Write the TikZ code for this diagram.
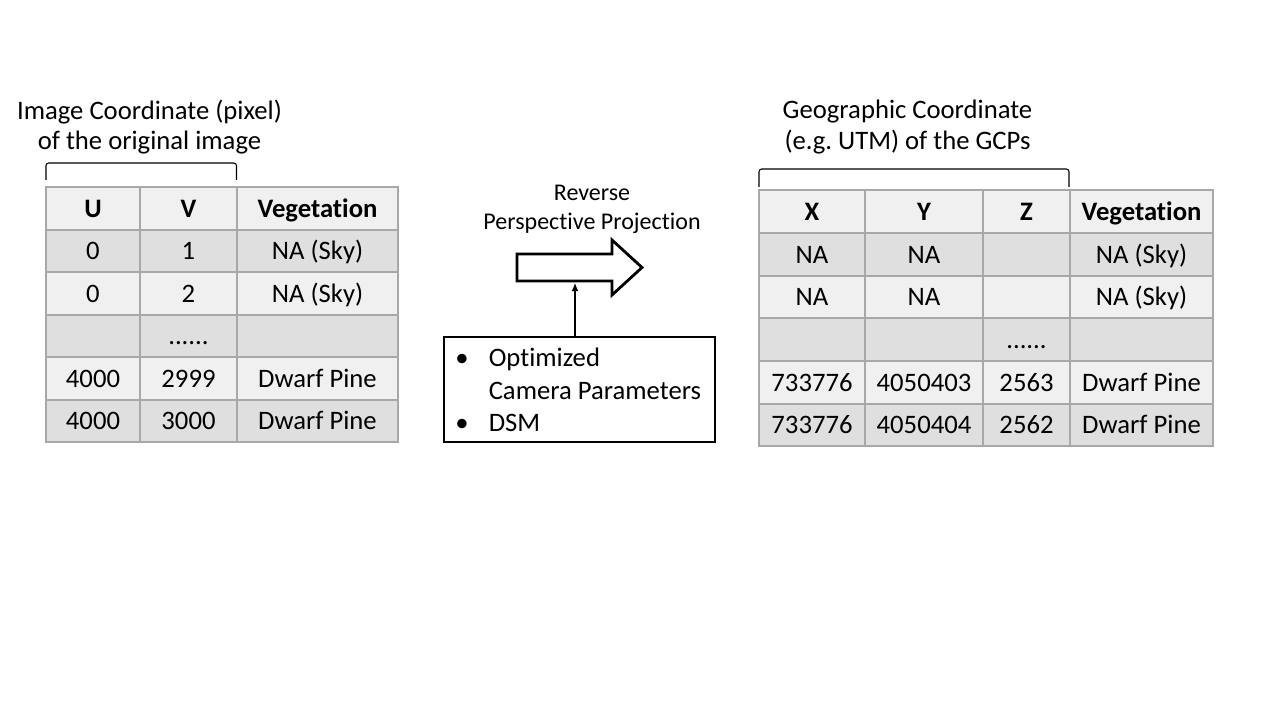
\documentclass[tikz,border=0pt]{standalone}
\usepackage{fontspec}
\setmainfont{Carlito}[Ligatures={NoCommon}]
\frenchspacing
\usetikzlibrary{fit,arrows.meta}
\definecolor{rowlight}{HTML}{F0F0F0}
\definecolor{rowdark}{HTML}{DFDFDF}
\definecolor{gridline}{HTML}{A8A8A8}
\begin{document}
\begin{tikzpicture}[x=0.75pt,y=-0.75pt,
  cell/.style={draw=gridline, line width=0.9pt, inner sep=0pt},
  celltext/.style={font=\fontsize{20}{24}\selectfont, anchor=base, inner sep=0pt},
  title/.style={font=\fontsize{20}{24}\selectfont, anchor=base, inner sep=0pt},
  caption/.style={font=\fontsize{18}{22}\selectfont, anchor=base, inner sep=0pt},
  boxtext/.style={font=\fontsize{20}{24}\selectfont, anchor=base west, inner sep=0pt},
  bracket/.style={line width=0.8pt, rounded corners=2pt}]
\useasboundingbox (0,0) rectangle (1280,720);
\fill[white] (0,0) rectangle (1280,720);

% ---- pixel coordinate table ----
\node[title] (lt1) at (149.5,119.3) {Image Coordinate (pixel)};
\node[title] (lt2) at (149.5,150) {of the original image};
\draw[bracket] (46,180) -- (46,163) -- (236.5,163) -- (236.5,180);

\foreach \r/\ya/\yb/\fc/\ca/\cb/\cc in {
  0/187/230/rowlight/{\bfseries U}/{\bfseries V}/{\bfseries Vegetation},
  1/230/272/rowdark/0/1/NA (Sky),
  2/272/315/rowlight/0/2/NA (Sky),
  3/315/357/rowdark/{}/{......}/{},
  4/357/400/rowlight/4000/2999/Dwarf Pine,
  5/400/442/rowdark/4000/3000/Dwarf Pine}{
  \node[cell, fill=\fc, fit={(46,\ya) (140,\yb)}] (L-\r-1) {};
  \node[cell, fill=\fc, fit={(140,\ya) (237,\yb)}] (L-\r-2) {};
  \node[cell, fill=\fc, fit={(237,\ya) (398,\yb)}] (L-\r-3) {};
  \node[celltext] (L-\r-1t) at ([yshift=-6.4pt]L-\r-1.center) {\ca};
  \node[celltext] (L-\r-2t) at ([yshift=-6.4pt]L-\r-2.center) {\cb};
  \node[celltext] (L-\r-3t) at ([yshift=-6.4pt]L-\r-3.center) {\cc};
}

% ---- projection step ----
\node[caption] (rv1) at (592,200.7) {Reverse};
\node[caption] (rv2) at (592,229.3) {Perspective Projection};
\draw[line width=2.1pt, line join=miter]
  (517,254) -- (612,254) -- (612,240) -- (642,267.5) -- (612,295) -- (612,281) -- (517,281) -- cycle;
\coordinate (arrbot) at (575,283);

\node[draw, line width=0.8pt, inner sep=0pt, fit={(444,337) (715,442)}] (params) {};
\node[boxtext] (b1) at (455,366.7) {•};
\node[boxtext] (t1) at (488.5,366.7) {Optimized};
\node[boxtext] (t2) at (488.5,399.5) {Camera Parameters};
\node[boxtext] (b2) at (455,431.5) {•};
\node[boxtext] (t3) at (488.5,431.5) {DSM};
\draw[line width=0.8pt, -{Latex[length=6pt,width=5pt]}] (params.north -| arrbot) -- (arrbot);

% ---- geographic coordinate table ----
\node[title] (rt1) at (907.5,118.3) {Geographic Coordinate};
\node[title] (rt2) at (907.5,150) {(e.g. UTM) of the GCPs};
\draw[bracket] (759,187) -- (759,169) -- (1069,169) -- (1069,187);

\foreach \r/\ya/\yb/\fc/\ca/\cb/\cc/\cd in {
  0/190/233/rowlight/{\bfseries X}/{\bfseries Y}/{\bfseries Z}/{\bfseries Vegetation},
  1/233/276/rowdark/NA/NA/{}/NA (Sky),
  2/276/318/rowlight/NA/NA/{}/NA (Sky),
  3/318/361/rowdark/{}/{}/{......}/{},
  4/361/404/rowlight/733776/4050403/2563/Dwarf Pine,
  5/404/446/rowdark/733776/4050404/2562/Dwarf Pine}{
  \node[cell, fill=\fc, fit={(759,\ya) (865,\yb)}] (R-\r-1) {};
  \node[cell, fill=\fc, fit={(865,\ya) (983,\yb)}] (R-\r-2) {};
  \node[cell, fill=\fc, fit={(983,\ya) (1070,\yb)}] (R-\r-3) {};
  \node[cell, fill=\fc, fit={(1070,\ya) (1213,\yb)}] (R-\r-4) {};
  \node[celltext] (R-\r-1t) at ([yshift=-6.4pt]R-\r-1.center) {\ca};
  \node[celltext] (R-\r-2t) at ([yshift=-6.4pt]R-\r-2.center) {\cb};
  \node[celltext] (R-\r-3t) at ([yshift=-6.4pt]R-\r-3.center) {\cc};
  \node[celltext] (R-\r-4t) at ([yshift=-6.4pt]R-\r-4.center) {\cd};
}
\end{tikzpicture}
\end{document}
